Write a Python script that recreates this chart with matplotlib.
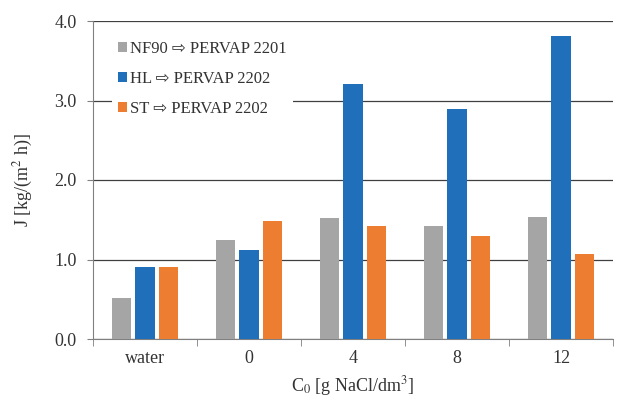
import numpy as np
import matplotlib.pyplot as plt

plt.rcParams['font.family'] = ['Liberation Serif', 'DejaVu Sans']
plt.rcParams['mathtext.fontset'] = 'stix'

categories = ["water", "0", "4", "8", "12"]
nf90 = [0.51, 1.24, 1.52, 1.42, 1.53]
hl = [0.90, 1.12, 3.21, 2.89, 3.81]
st = [0.90, 1.48, 1.42, 1.30, 1.07]
labels = ["NF90 \u21e8 PERVAP 2201", "HL \u21e8 PERVAP 2202", "ST \u21e8 PERVAP 2202"]
colors = ["#A5A5A5", "#1F6FBA", "#ED7D31"]

fig = plt.figure(figsize=(6.44, 4.0), dpi=100)
ax = fig.add_axes([0.1445, 0.1525, 0.8075, 0.795])

x = np.arange(len(categories))
w = 0.186
d = 0.224
for i, (vals, lab, c) in enumerate(zip([nf90, hl, st], labels, colors)):
    ax.bar(x + (i - 1) * d, vals, w, color=c, label=lab, zorder=3)

ax.set_xlim(-0.5, len(categories) - 0.5)
ax.set_ylim(0, 4.0)
ax.set_yticks([0, 1, 2, 3, 4])
ax.set_yticklabels(["0.0", "1.0", "2.0", "3.0", "4.0"])
ax.yaxis.grid(True, color="#404040", linewidth=0.9, zorder=0)
ax.set_axisbelow(True)

ax.set_xticks(x)
ax.set_xticklabels(categories)
ax.set_xticks(np.arange(len(categories) + 1) - 0.5, minor=True)
ax.tick_params(axis="x", which="major", length=0, pad=8, labelsize=13, labelcolor="#333333")
ax.tick_params(axis="x", which="minor", length=5, color="#808080")
ax.tick_params(axis="y", length=4, color="#808080", labelsize=13, pad=8, labelcolor="#333333")

for s in ["top", "right"]:
    ax.spines[s].set_visible(False)
ax.spines["left"].set_color("#808080")
ax.spines["bottom"].set_color("#808080")

ax.set_ylabel("J [kg/(m$^2$ h)]", fontsize=13, labelpad=14, color="#333333")
ax.set_xlabel("C$_0$ [g NaCl/dm$^3$]", fontsize=13, labelpad=5, color="#333333")

leg = ax.legend(loc="upper left", bbox_to_anchor=(0.02, 0.985), fontsize=12,
                handlelength=0.5, handleheight=0.5, handletextpad=0.2,
                labelspacing=0.85, frameon=True, fancybox=False,
                edgecolor="none", framealpha=1)
leg.get_frame().set_facecolor("white")
for t in leg.get_texts():
    t.set_color("#333333")
leg.set_zorder(5)

fig.savefig("out.png", dpi=100)
